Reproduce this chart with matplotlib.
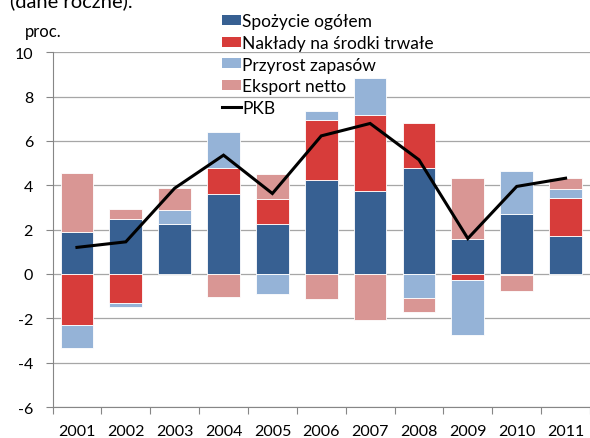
import matplotlib
matplotlib.use('Agg')
import matplotlib.pyplot as plt
from matplotlib.patches import Patch
from matplotlib.lines import Line2D
import numpy as np

plt.rcParams['font.family'] = ['Lato', 'DejaVu Sans']
plt.rcParams['axes.unicode_minus'] = False

# Data (proc., dane roczne)
years = ['2001', '2002', '2003', '2004', '2005', '2006', '2007', '2008', '2009', '2010', '2011']
spozycie = [1.90, 2.48, 2.25, 3.62, 2.24, 4.25, 3.74, 4.76, 1.58, 2.72, 1.73]
naklady = [-2.28, -1.31, 0.00, 1.15, 1.15, 2.70, 3.42, 2.06, -0.27, -0.03, 1.68]
przyrost = [-1.05, -0.19, 0.65, 1.62, -0.90, 0.41, 1.68, -1.10, -2.48, 1.93, 0.42]
eksport = [2.65, 0.45, 0.97, -1.02, 1.11, -1.13, -2.07, -0.63, 2.74, -0.75, 0.49]
pkb = [1.20, 1.45, 3.87, 5.36, 3.63, 6.23, 6.79, 5.15, 1.60, 3.95, 4.32]

series = [
    ('Spożycie ogółem', spozycie, '#376092'),
    ('Nakłady na środki trwałe', naklady, '#D73C3A'),
    ('Przyrost zapasów', przyrost, '#95B3D7'),
    ('Eksport netto', eksport, '#D99694'),
]

fig = plt.figure(figsize=(5.9, 4.39), dpi=100)
ax = fig.add_axes([0.089, 0.0706, 0.911, 0.808])

x = np.arange(len(years))
pos_base = np.zeros(len(years))
neg_base = np.zeros(len(years))
for name, vals, color in series:
    v = np.array(vals)
    bottoms = np.where(v >= 0, pos_base, neg_base)
    ax.bar(x, v, bottom=bottoms, width=0.67, color=color,
           edgecolor='white', linewidth=0.6, zorder=2)
    pos_base += np.where(v >= 0, v, 0)
    neg_base += np.where(v < 0, v, 0)

ax.plot(x, pkb, color='black', linewidth=2.2, zorder=3, solid_joinstyle='miter')

# Axes styling
ax.set_ylim(-6, 10)
ax.set_xlim(-0.5, 10.47)
ax.set_yticks(range(-6, 11, 2))
ax.grid(axis='y', color='#A6A6A6', linewidth=0.9, zorder=0)
ax.set_axisbelow(True)
for s in ['top', 'right']:
    ax.spines[s].set_visible(False)
ax.spines['left'].set_color('#868686')
ax.spines['bottom'].set_color('#868686')

ax.set_xticks(np.arange(-0.5, len(years), 1.0))
ax.set_xticklabels([])
ax.set_xticks(x, minor=True)
ax.set_xticklabels(years, minor=True)
ax.tick_params(axis='x', which='minor', length=0, labelsize=11.5, pad=12)
ax.tick_params(axis='x', which='major', length=5, color='#868686', direction='out')
ax.tick_params(axis='y', length=5, color='#868686', labelsize=11.5, pad=9)

fig.text(0.017, 0.984, '(dane roczne).', fontsize=14.5, ha='left', va='baseline')
fig.text(0.043, 0.927, 'proc.', fontsize=12, ha='left', va='center')

handles = [Patch(facecolor=c, edgecolor='none') for _, _, c in series]
handles.append(Line2D([0], [0], color='black', linewidth=2.2))
labels = [n for n, _, _ in series] + ['PKB']
fig.legend(handles, labels, loc='upper left', bbox_to_anchor=(0.377, 0.968),
           frameon=False, fontsize=12.5, handlelength=1.08, handleheight=0.52,
           handletextpad=0.05, labelspacing=0.33, borderaxespad=0.0,
           borderpad=0.0)

fig.savefig('out.png', dpi=100)
